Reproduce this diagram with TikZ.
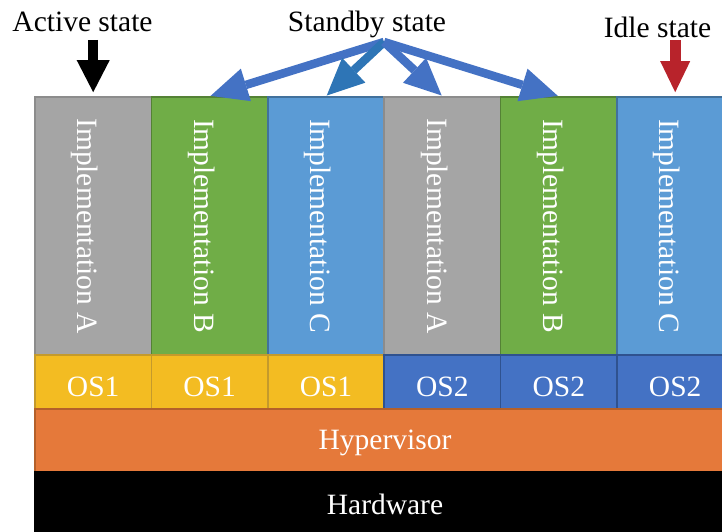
\documentclass[tikz,border=0pt]{standalone}
\usepackage{fontspec}
\setmainfont{Liberation Serif}
\usetikzlibrary{arrows.meta}

% fills and outlines
\definecolor{implgray}{HTML}{A5A5A5}
\definecolor{implgrayline}{HTML}{8C8C8C}
\definecolor{implgreen}{HTML}{70AD47}
\definecolor{implgreenline}{HTML}{548235}
\definecolor{implblue}{HTML}{5B9BD5}
\definecolor{implblueline}{HTML}{41719C}
\definecolor{osone}{HTML}{F3BC22}
\definecolor{osoneline}{HTML}{C49A2C}
\definecolor{ostwo}{HTML}{4472C4}
\definecolor{ostwoline}{HTML}{2F528F}
\definecolor{hyperfill}{HTML}{E5793A}
\definecolor{hyperline}{HTML}{B4602A}
\definecolor{standbyblue}{HTML}{4472C4}
\definecolor{standbyblue2}{HTML}{2E75B6}
\definecolor{idlered}{HTML}{B8232B}

\begin{document}
\begin{tikzpicture}[x=1pt,y=1pt,
  bigfont/.style={font=\fontsize{29.5}{31}\selectfont},
  box/.style={draw, line width=1.6pt, inner sep=0pt, minimum width=116.4pt},
  implbox/.style={box, minimum height=258pt},
  osbox/.style={box, minimum height=54pt, text=white, bigfont, text height=30pt, text depth=0pt},
  layer/.style={draw, line width=1.6pt, inner sep=0pt, minimum width=700pt, text=white, bigfont},
  vtext/.style={rotate=-90, text=white, inner sep=0pt, bigfont},
  statelabel/.style={anchor=base, inner sep=0pt, bigfont},
  activearrow/.style={line width=10pt, -{Triangle[length=32pt,width=33pt,line width=0pt]}, shorten >=4pt},
  standbyarrow/.style={line width=8.5pt, -{Triangle[length=37pt,width=34pt,line width=0pt]}, shorten >=1pt},
  idlearrow/.style={line width=11pt, -{Triangle[length=31pt,width=30pt,line width=0pt]}, shorten >=4pt}
]
\clip (0,0) rectangle (722,532);

% implementation columns
\node[implbox, fill=implgray,  draw=implgrayline]  (c1) at (93.2,306) {};
\node[implbox, fill=implgreen, draw=implgreenline] (c2) at (209.6,306) {};
\node[implbox, fill=implblue,  draw=implblueline]  (c3) at (326.0,306) {};
\node[implbox, fill=implgray,  draw=implgrayline]  (c4) at (442.4,306) {};
\node[implbox, fill=implgreen, draw=implgreenline] (c5) at (558.8,306) {};
\node[implbox, fill=implblue,  draw=implblueline]  (c6) at (675.2,306) {};

\node[vtext] (t1) at ([xshift=-8.3pt]c1.center) {Implementation A};
\node[vtext] (t2) at ([xshift=-8.3pt]c2.center) {Implementation B};
\node[vtext] (t3) at ([xshift=-8.3pt]c3.center) {Implementation C};
\node[vtext] (t4) at ([xshift=-8.3pt]c4.center) {Implementation A};
\node[vtext] (t5) at ([xshift=-8.3pt]c5.center) {Implementation B};
\node[vtext] (t6) at ([xshift=-8.3pt]c6.center) {Implementation C};

% guest operating systems
\node[osbox, fill=osone, draw=osoneline] (o1) at (93.2,150) {OS1};
\node[osbox, fill=osone, draw=osoneline] (o2) at (209.6,150) {OS1};
\node[osbox, fill=osone, draw=osoneline] (o3) at (326.0,150) {OS1};
\node[osbox, fill=ostwo, draw=ostwoline] (o4) at (442.4,150) {OS2};
\node[osbox, fill=ostwo, draw=ostwoline] (o5) at (558.8,150) {OS2};
\node[osbox, fill=ostwo, draw=ostwoline] (o6) at (675.2,150) {OS2};

% lower layers
\node[layer, fill=hyperfill, draw=hyperline, minimum height=63pt,
      text height=25pt, text depth=6pt] (hyp) at (385,91.5) {Hypervisor};
\node[layer, fill=black, draw=black, minimum height=64pt,
      text height=22pt, text depth=0pt] (hw) at (385,28) {Hardware};

% state labels
\node[statelabel] (active)  at (82.5,500) {Active state};
\node[statelabel] (standby) at (367,500) {Standby state};
\node[statelabel] (idle)    at (657.5,494) {Idle state};

\coordinate (activetop)  at (93.2,492);
\coordinate (standbytop) at (384,490);
\coordinate (idletop)    at (675.2,492);

% state arrows
\draw[activearrow, black] (activetop) -- (c1.north);
\draw[standbyarrow, standbyblue]  (standbytop) -- (c2.north);
\draw[standbyarrow, standbyblue2] (standbytop) -- (c3.north);
\draw[standbyarrow, standbyblue]  (standbytop) -- (c4.north);
\draw[standbyarrow, standbyblue]  (standbytop) -- (c5.north);
\draw[idlearrow, idlered] (idletop) -- (c6.north);
\end{tikzpicture}
\end{document}
